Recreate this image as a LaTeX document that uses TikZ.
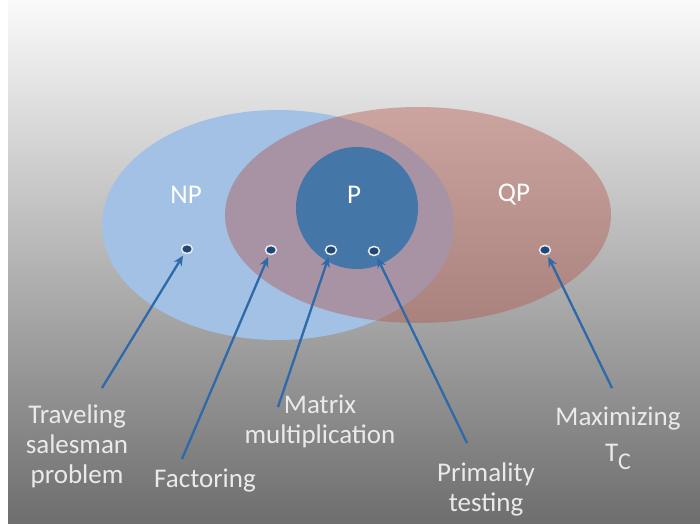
\documentclass[tikz,border=0pt]{standalone}
\usepackage{fontspec}
\setmainfont{Carlito}
\usetikzlibrary{arrows.meta,shapes.geometric}
\definecolor{npblue}{RGB}{162,193,228}
\definecolor{qpred}{RGB}{178,80,70}
\definecolor{pblue}{RGB}{69,118,168}
\definecolor{dotblue}{RGB}{30,72,120}
\definecolor{arrblue}{RGB}{46,106,170}
\definecolor{labelgray}{RGB}{234,234,234}
\definecolor{bgtop}{RGB}{250,250,250}
\definecolor{bgbot}{RGB}{110,110,110}
\begin{document}
\begin{tikzpicture}[x=1pt,y=-1pt,
  setname/.style={text=white,font=\fontsize{27}{30}\selectfont,inner sep=0pt},
  lbl/.style={text=labelgray,font=\fontsize{27}{30}\selectfont,align=center,inner sep=0pt},
  dotm/.style={ellipse,fill=dotblue,draw=gray!15,line width=1.5pt,minimum width=11pt,minimum height=9pt,inner sep=0pt,outer sep=3pt},
  arr/.style={draw=arrblue,line width=2.3pt,-{Stealth[length=10pt,width=9pt]}}]
\useasboundingbox (0,0) rectangle (700,525);
\fill[white] (0,0) rectangle (700,525);
\shade[top color=bgtop,bottom color=bgbot] (8,0) rectangle (700,523);
% sets
\fill[npblue] (278,225) ellipse [x radius=176pt, y radius=115pt];
\fill[qpred,opacity=0.4] (418,215) ellipse [x radius=193pt, y radius=108pt];
\fill[pblue] (357,208) circle [radius=61pt];
\node[setname] (np) at (186,195) {NP};
\node[setname] (p) at (354,195) {P};
\node[setname] (qp) at (514,195) {QP};
% dots
\node[dotm] (d1) at (187,249) {};
\node[dotm] (d2) at (271,250) {};
\node[dotm] (d3) at (331,250) {};
\node[dotm] (d4) at (374,251) {};
\node[dotm] (d5) at (545,250) {};
% labels
\node[lbl] (tsp) at (77,446) {Traveling\\salesman\\problem};
\node[lbl,anchor=base] (fac) at (205,487) {Factoring};
\node[lbl] (mat) at (320,421) {Matrix\\multiplication};
\node[lbl] (pri) at (486,489) {Primality\\testing};
\node[lbl] (max) at (618,438) {Maximizing\\[6pt]T\raisebox{-8pt}{\fontsize{24}{24}\selectfont C}};
% arrow tails
\coordinate (t1) at (102,388);
\coordinate (t2) at (182,459);
\coordinate (t3) at (278,407);
\coordinate (t4) at (467,443);
\coordinate (t5) at (612,388);
\draw[arr] (t1) -- (d1);
\draw[arr] (t2) -- (d2);
\draw[arr] (t3) -- (d3);
\draw[arr] (t4) -- (d4);
\draw[arr] (t5) -- (d5);
\end{tikzpicture}
\end{document}
